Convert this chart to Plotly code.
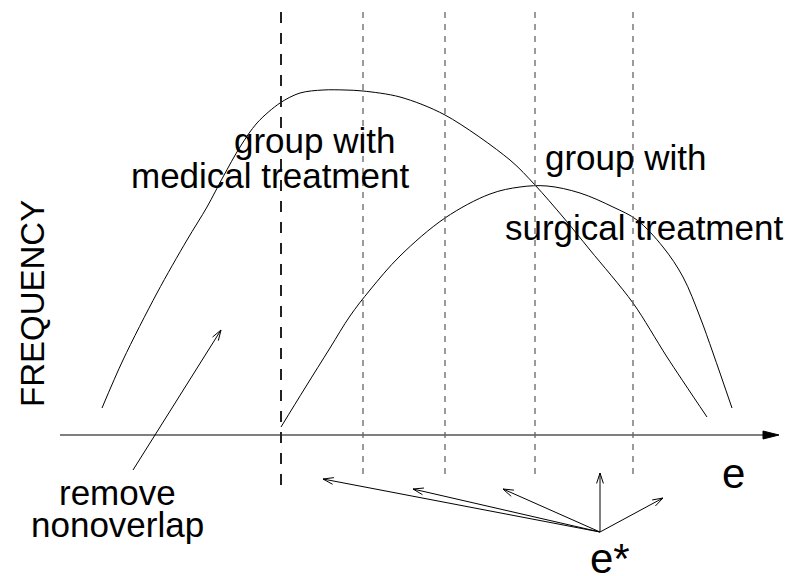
import math
import plotly.graph_objects as go

# ---- data (e = horizontal position, freq = height above the e axis) ----
BASE = 435  # pixel row of e-axis (used only to convert read-off values)

medical_px = [102, 123, 157, 187, 207, 223, 240, 257, 280, 300, 323, 345, 363, 400, 445, 510, 535, 563, 590, 633, 667, 707]
medical_py = [408, 360, 293, 240, 207, 177, 147, 123, 103, 93, 90, 90, 91, 97, 115, 160, 185, 217, 250, 303, 357, 417]

surgical_px = [281, 305, 330, 350, 370, 400, 445, 490, 520, 547, 580, 613, 637, 663, 683, 700, 713, 732]
surgical_py = [427, 388, 348, 316, 290, 256, 218, 194, 187, 186, 193, 207, 220, 247, 277, 317, 353, 408]

medical_e = medical_px
medical_freq = [BASE - v for v in medical_py]
surgical_e = surgical_px
surgical_freq = [BASE - v for v in surgical_py]

strata_e = [363, 445, 535, 633]          # thin grey dashed boundaries
cut_e = 281                               # heavy dashed cut
estar = (600, BASE - 532)
estar_targets = [(663, BASE - 498), (600, BASE - 473), (503, BASE - 489), (413, BASE - 489), (323, BASE - 479)]
remove_arrow = ((133, BASE - 470), (221, BASE - 330))

FONT = "Liberation Sans, Arial, Helvetica, sans-serif"

fig = go.Figure()

# curves
fig.add_trace(go.Scatter(x=medical_e, y=medical_freq, mode="lines",
                         line=dict(color="black", width=1, shape="spline", smoothing=0.9),
                         hoverinfo="skip"))
fig.add_trace(go.Scatter(x=surgical_e, y=surgical_freq, mode="lines",
                         line=dict(color="black", width=1, shape="spline", smoothing=1.0),
                         hoverinfo="skip"))

# e axis
fig.add_trace(go.Scatter(x=[60, 765], y=[0, 0], mode="lines",
                         line=dict(color="black", width=1.2), hoverinfo="skip"))
fig.add_trace(go.Scatter(x=[779, 763, 763, 779], y=[0, 4, -4, 0], mode="lines",
                         fill="toself", fillcolor="black",
                         line=dict(color="black", width=1), hoverinfo="skip"))

# dashed vertical lines
fig.add_shape(type="line", x0=cut_e, x1=cut_e, y0=BASE - 12, y1=BASE - 486,
              line=dict(color="#222222", width=2, dash="11px,10px"))
for xe in strata_e:
    fig.add_shape(type="line", x0=xe, x1=xe, y0=BASE - 12, y1=BASE - 475,
                  line=dict(color="#666666", width=1.3, dash="6px,6px"))

# arrows with open heads
def arrow_xy(p0, p1, L=11, ang=18):
    xs, ys = [p0[0], p1[0], None], [p0[1], p1[1], None]
    th = math.atan2(p1[1] - p0[1], p1[0] - p0[0])
    for s in (1, -1):
        a = th + math.pi + s * math.radians(ang)
        xs += [p1[0], p1[0] + L * math.cos(a), None]
        ys += [p1[1], p1[1] + L * math.sin(a), None]
    return xs, ys

ax, ay = [], []
for t in estar_targets:
    xs, ys = arrow_xy(estar, t)
    ax += xs
    ay += ys
xs, ys = arrow_xy(remove_arrow[0], remove_arrow[1])
ax += xs
ay += ys
fig.add_trace(go.Scatter(x=ax, y=ay, mode="lines", line=dict(color="black", width=1),
                         hoverinfo="skip", connectgaps=False))

# text labels: (text, center x, baseline pixel row, size)
labels = [
    ("group with", 314, 153, 35),
    ("medical treatment", 270, 188, 35),
    ("group with", 625, 170, 35),
    ("surgical treatment", 644, 240, 35),
    ("remove", 117, 505, 35),
    ("nonoverlap", 117, 537, 35),
    ("e", 733, 488, 42),
    ("e*", 610, 573, 42),
]
for txt, cx, base, fs in labels:
    fig.add_annotation(x=cx, y=BASE - (base - 0.35 * fs), text=txt, showarrow=False,
                       xanchor="center", yanchor="middle",
                       font=dict(family=FONT, size=fs, color="black"))

fig.add_annotation(x=32, y=BASE - 304, text="FREQUENCY", textangle=-90, showarrow=False,
                   xanchor="center", yanchor="middle",
                   font=dict(family=FONT, size=33, color="black"))

fig.update_layout(
    width=791, height=576,
    margin=dict(l=0, r=0, t=0, b=0),
    paper_bgcolor="white", plot_bgcolor="white",
    showlegend=False,
    xaxis=dict(range=[0, 791], visible=False, fixedrange=True),
    yaxis=dict(range=[BASE - 576, BASE], visible=False, fixedrange=True),
)

fig.write_html("out.html", config={"displayModeBar": False},
               post_script="document.body.style.margin='0';document.body.style.overflow='hidden';")
